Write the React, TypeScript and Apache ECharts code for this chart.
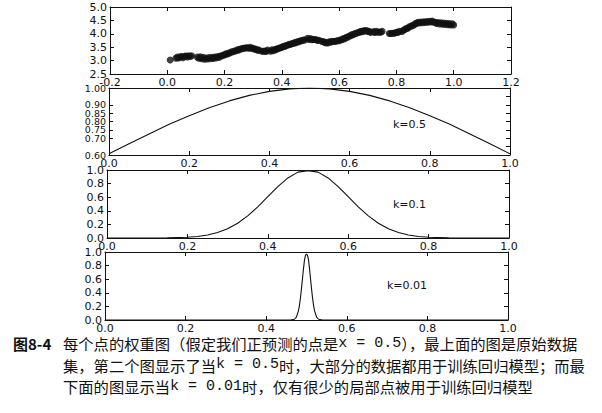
import React, { useEffect, useRef } from "react";
import * as echarts from "echarts";

// ---- data ----
const scatterX = [
  0.01, 0.03, 0.035, 0.04, 0.045, 0.05, 0.055, 0.06, 0.065, 0.07, 0.075, 0.08, 0.085,
  0.105, 0.11, 0.115, 0.12, 0.125, 0.13, 0.135, 0.14, 0.145, 0.15, 0.155, 0.16, 0.165, 0.17, 0.175, 0.18, 0.185, 0.19, 0.195,
  0.2, 0.205, 0.21, 0.215, 0.22, 0.225, 0.23, 0.235, 0.24, 0.245, 0.25, 0.255, 0.26, 0.265, 0.27, 0.275, 0.28, 0.285, 0.29, 0.295,
  0.3, 0.305, 0.31, 0.315, 0.32, 0.33, 0.335, 0.34, 0.345, 0.35, 0.36, 0.365, 0.37, 0.375, 0.38, 0.385, 0.39, 0.395,
  0.4, 0.405, 0.41, 0.415, 0.42, 0.425, 0.43, 0.435, 0.44, 0.445, 0.45, 0.455, 0.46, 0.465, 0.47, 0.475, 0.48, 0.49, 0.495,
  0.5, 0.505, 0.51, 0.515, 0.52, 0.525, 0.53, 0.54, 0.545, 0.55, 0.555, 0.56, 0.565, 0.57, 0.575, 0.58, 0.585, 0.59, 0.595,
  0.6, 0.605, 0.61, 0.615, 0.62, 0.625, 0.63, 0.635, 0.64, 0.645, 0.65, 0.655, 0.66, 0.665, 0.67, 0.675, 0.68, 0.685, 0.69, 0.695,
  0.7, 0.705, 0.71, 0.72, 0.725, 0.73, 0.735, 0.74, 0.745, 0.75,
  0.775, 0.78, 0.785, 0.79, 0.795, 0.8, 0.805, 0.81, 0.82, 0.825, 0.83, 0.835, 0.84, 0.845, 0.85, 0.855, 0.86, 0.865, 0.87, 0.875,
  0.88, 0.885, 0.89, 0.895, 0.9, 0.905, 0.91, 0.915, 0.92, 0.925, 0.93, 0.935, 0.94, 0.945, 0.95, 0.955, 0.96, 0.965, 0.97, 0.975,
  0.98, 0.985, 0.99, 0.995, 1.0,
];
const scatterY = [
  3.02, 3.09, 3.13, 3.1, 3.14, 3.15, 3.11, 3.16, 3.17, 3.14, 3.18, 3.15, 3.18,
  3.13, 3.09, 3.14, 3.07, 3.12, 3.05, 3.1, 3.06, 3.11, 3.07, 3.12, 3.08, 3.13, 3.1, 3.15, 3.12, 3.17, 3.17, 3.21,
  3.21, 3.25, 3.25, 3.28, 3.29, 3.33, 3.33, 3.36, 3.37, 3.4, 3.4, 3.43, 3.44, 3.46, 3.46, 3.48, 3.48, 3.46, 3.5, 3.45,
  3.46, 3.42, 3.42, 3.39, 3.39, 3.35, 3.35, 3.36, 3.34, 3.39, 3.35, 3.4, 3.37, 3.41, 3.41, 3.45, 3.45, 3.49,
  3.49, 3.53, 3.53, 3.56, 3.57, 3.61, 3.6, 3.64, 3.64, 3.67, 3.67, 3.71, 3.7, 3.74, 3.74, 3.77, 3.77, 3.83, 3.79,
  3.82, 3.78, 3.79, 3.79, 3.78, 3.75, 3.76, 3.71, 3.71, 3.67, 3.67, 3.66, 3.7, 3.69, 3.72, 3.71, 3.72, 3.72, 3.75,
  3.74, 3.78, 3.78, 3.82, 3.82, 3.87, 3.87, 3.92, 3.93, 3.97, 3.97, 4.01, 4.01, 4.05, 4.05, 4.09, 4.08, 4.11, 4.11, 4.12,
  4.09, 4.09, 4.05, 4.08, 4.05, 4.09, 4.06, 4.07, 4.06, 4.09,
  4.01, 4.01, 4.02, 4.02, 4.03, 4.06, 4.05, 4.09, 4.09, 4.14, 4.16, 4.21, 4.21, 4.26, 4.27, 4.31, 4.32, 4.37, 4.39, 4.43,
  4.4, 4.44, 4.41, 4.45, 4.42, 4.46, 4.43, 4.47, 4.44, 4.48, 4.43, 4.43, 4.39, 4.42, 4.37, 4.41, 4.36, 4.4, 4.35, 4.39,
  4.34, 4.38, 4.33, 4.37, 4.33,
];

const k05X = [0, 0.05, 0.1, 0.15, 0.2, 0.25, 0.3, 0.35, 0.4, 0.45, 0.5, 0.55, 0.6, 0.65, 0.7, 0.75, 0.8, 0.85, 0.9, 0.95, 1.0];
const k05Y = [0.607, 0.667, 0.726, 0.783, 0.835, 0.882, 0.923, 0.956, 0.98, 0.995, 1.0, 0.995, 0.98, 0.956, 0.923, 0.882, 0.835, 0.783, 0.726, 0.667, 0.607];

const k01X = [0, 0.1, 0.15, 0.2, 0.225, 0.25, 0.275, 0.3, 0.325, 0.35, 0.375, 0.4, 0.425, 0.45, 0.475, 0.5,
  0.525, 0.55, 0.575, 0.6, 0.625, 0.65, 0.675, 0.7, 0.725, 0.75, 0.775, 0.8, 0.85, 0.9, 1.0];
const k01Y = [0, 0.0003, 0.0022, 0.011, 0.023, 0.044, 0.08, 0.135, 0.216, 0.325, 0.458, 0.607, 0.755, 0.883, 0.969, 0.99,
  0.969, 0.883, 0.755, 0.607, 0.458, 0.325, 0.216, 0.135, 0.08, 0.044, 0.023, 0.011, 0.0022, 0.0003, 0];

const k001X = [0, 0.46, 0.47, 0.475, 0.48, 0.4825, 0.485, 0.4875, 0.49, 0.4925, 0.495, 0.4975, 0.5,
  0.5025, 0.505, 0.5075, 0.51, 0.5125, 0.515, 0.5175, 0.52, 0.525, 0.53, 0.54, 1.0];
const k001Y = [0, 0, 0.011, 0.044, 0.135, 0.216, 0.325, 0.458, 0.607, 0.755, 0.883, 0.95, 0.97,
  0.95, 0.883, 0.755, 0.607, 0.458, 0.325, 0.216, 0.135, 0.044, 0.011, 0, 0];

const panelLabels = ["k=0.5", "k=0.1", "k=0.01"];

const captionTag = "图8-4";
const captionLines = [
  "每个点的权重图（假定我们正预测的点是{m|x = 0.5}），最上面的图是原始数据",
  "集，第二个图显示了当{m|k = 0.5}时，大部分的数据都用于训练回归模型；而最",
  "下面的图显示当{m|k = 0.01}时，仅有很少的局部点被用于训练回归模型",
];

const zip = (xs: number[], ys: number[]) => xs.map((x, i) => [x, ys[i]]);

const INK = "#111111";
const FONT = "DejaVu Sans";

export default function App() {
  const ref = useRef<HTMLDivElement>(null);

  useEffect(() => {
    if (!ref.current) return;
    const chart = echarts.init(ref.current, null, { renderer: "svg" });

    const grids = [
      { left: 110, top: 7, width: 401, height: 67 },
      { left: 109, top: 88, width: 401, height: 67 },
      { left: 107, top: 170, width: 402, height: 68 },
      { left: 105, top: 252, width: 403, height: 68 },
    ];
    const xr = [
      { min: -0.2, max: 1.2, interval: 0.2, dec: 1 },
      { min: 0, max: 1, interval: 0.2, dec: 1 },
      { min: 0, max: 1, interval: 0.2, dec: 1 },
      { min: 0, max: 1, interval: 0.2, dec: 1 },
    ];
    const yr = [
      { min: 2.5, max: 5.0, interval: 0.5, dec: 1, fs: 11, lh: 12 },
      { min: 0.6, max: 1.0, interval: 0.05, dec: 2, fs: 9.5, lh: 8 },
      { min: 0, max: 1, interval: 0.2, dec: 1, fs: 11, lh: 12 },
      { min: 0, max: 1, interval: 0.2, dec: 1, fs: 11, lh: 12 },
    ];

    const xAxes: any[] = [];
    const yAxes: any[] = [];
    grids.forEach((_, i) => {
      const base = (r: any, pos: string, showLabel: boolean, isX: boolean) => ({
        type: "value",
        gridIndex: i,
        min: r.min,
        max: r.max,
        interval: r.interval,
        position: pos,
        axisLine: { show: true, onZero: false, lineStyle: { color: INK, width: 1 } },
        axisTick: { show: true, inside: true, length: 4, lineStyle: { color: INK, width: 1 } },
        splitLine: { show: false },
        axisLabel: {
          show: showLabel,
          margin: isX ? 2 : 3,
          fontSize: r.fs || 11,
          lineHeight: r.lh || 12,
          fontFamily: FONT,
          color: INK,
          formatter: (v: number) => v.toFixed(r.dec),
          showMinLabel: true,
          showMaxLabel: true,
          hideOverlap: false,
        },
      });
      xAxes.push(base(xr[i], "bottom", true, true));
      xAxes.push(base(xr[i], "top", false, true));
      yAxes.push(base(yr[i], "left", true, false));
      yAxes.push(base(yr[i], "right", false, false));
    });

    const lineSeries = (data: number[][], i: number) => ({
      type: "line",
      xAxisIndex: i * 2,
      yAxisIndex: i * 2,
      data,
      showSymbol: false,
      symbol: "none",
      lineStyle: { color: INK, width: 1.1 },
      silent: true,
    });

    const labelPos = [
      { x: 393, y: 124 },
      { x: 393, y: 204 },
      { x: 387, y: 285 },
    ];

    const graphic: any[] = panelLabels.map((t, i) => ({
      type: "text",
      x: labelPos[i].x,
      y: labelPos[i].y,
      style: { text: t, font: `11px '${FONT}'`, fill: INK, verticalAlign: "middle" },
    }));

    const capTop = 343;
    graphic.push({
      type: "text",
      x: 13,
      y: capTop,
      style: { text: captionTag, font: "bold 15px 'Noto Sans CJK SC'", fill: INK, verticalAlign: "middle" },
    });
    captionLines.forEach((line, j) => {
      graphic.push({
        type: "text",
        x: 63,
        y: capTop + j * 21.5,
        style: {
          text: line,
          font: "15.3px 'Noto Sans CJK SC'",
          fill: INK,
          verticalAlign: "middle",
          rich: {
            m: { fontFamily: "Liberation Mono", fontSize: 15, fill: INK },
          },
        },
      });
    });

    chart.setOption({
      animation: false,
      backgroundColor: "#ffffff",
      grid: grids.map((g) => ({ ...g, containLabel: false })),
      xAxis: xAxes,
      yAxis: yAxes,
      series: [
        {
          type: "scatter",
          xAxisIndex: 0,
          yAxisIndex: 0,
          data: zip(scatterX, scatterY),
          symbolSize: 7,
          itemStyle: { color: INK },
          silent: true,
        },
        lineSeries(zip(k05X, k05Y), 1),
        lineSeries(zip(k01X, k01Y), 2),
        lineSeries(zip(k001X, k001Y), 3),
      ],
      graphic,
    });

    return () => chart.dispose();
  }, []);

  return (
    <div
      ref={ref}
      style={{ position: "absolute", left: 0, top: 0, width: 602, height: 413 }}
    />
  );
}
